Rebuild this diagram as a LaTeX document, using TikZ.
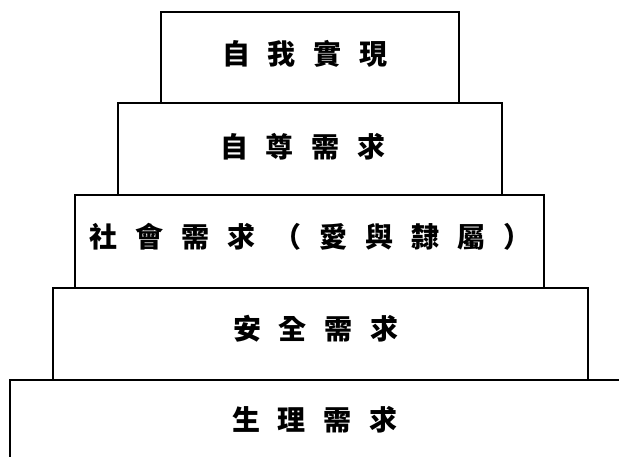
\documentclass[tikz,border=0pt]{standalone}
\usepackage{fontspec}
\newfontfamily\cjk{Noto Sans CJK TC}
\newcommand\cc[1]{\makebox[46pt]{#1}}
\tikzset{
  tier/.style={draw=black, line width=1.6pt, fill=white},
  tierlabel/.style={font=\cjk\bfseries\fontsize{28pt}{30pt}\selectfont, inner sep=0pt}
}
\begin{document}
\begin{tikzpicture}[x=1pt,y=-1pt]
\useasboundingbox (0,0) rectangle (619,457);
% bottom tier (open on right and bottom)
\draw[line width=1.6pt] (10,457) -- (10,380) -- (619,380);
\coordinate (b5) at (315,420);
\node[tierlabel] (t5) at (b5) {\cc{生}\cc{理}\cc{需}\cc{求}};
% tier 4
\draw[tier] (53,288) rectangle (588,380);
\node[tierlabel] (t4) at (316,329) {\cc{安}\cc{全}\cc{需}\cc{求}};
% tier 3
\draw[tier] (75,195) rectangle (544,288);
\node[tierlabel] (t3) at (311,237) {\cc{社}\cc{會}\cc{需}\cc{求}\cc{（}\cc{愛}\cc{與}\cc{隸}\cc{屬}\cc{）}};
% tier 2
\draw[tier] (118,103) rectangle (502,195);
\node[tierlabel] (t2) at (303,147) {\cc{自}\cc{尊}\cc{需}\cc{求}};
% tier 1
\draw[tier] (161,12) rectangle (459,103);
\node[tierlabel] (t1) at (305,54) {\cc{自}\cc{我}\cc{實}\cc{現}};
\end{tikzpicture}
\end{document}
